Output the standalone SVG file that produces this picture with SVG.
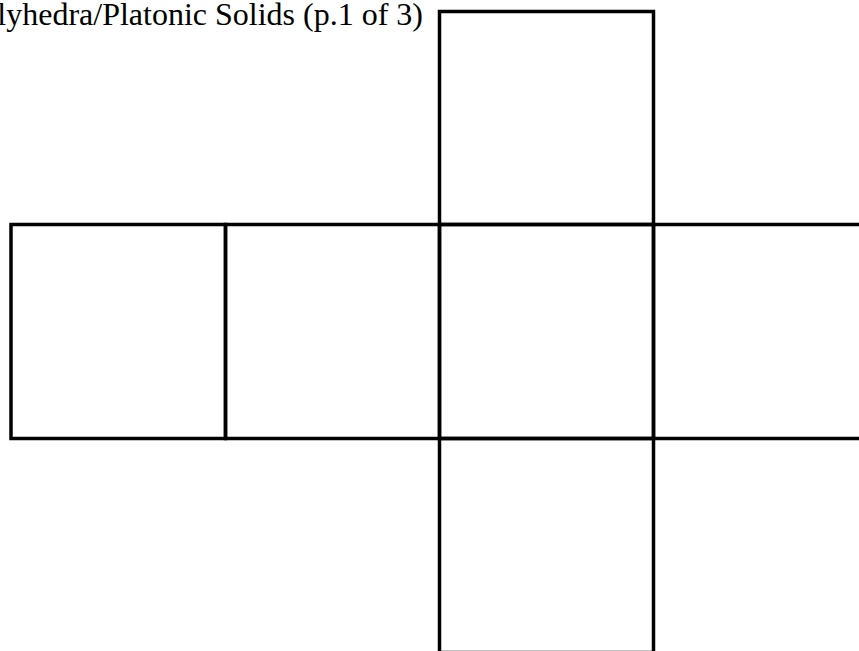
<svg xmlns="http://www.w3.org/2000/svg" width="859" height="651" viewBox="0 0 859 651">
<style>
.face{fill:none;stroke:#000;stroke-width:3.5}
.title{font-family:"Liberation Serif","Times New Roman",serif;font-size:32px;fill:#000}
</style>
<rect width="859" height="651" fill="#fff"/>
<text class="title" x="423" y="25" text-anchor="end">Polyhedra/Platonic Solids (p.1 of 3)</text>
<g id="face-top"><rect class="face" x="439.5" y="11.5" width="214" height="213"/></g>
<g id="face-left"><rect class="face" x="11" y="224.5" width="214.5" height="214"/></g>
<g id="face-midleft"><rect class="face" x="225.5" y="224.5" width="214" height="214"/></g>
<g id="face-center"><rect class="face" x="439.5" y="224.5" width="214" height="214"/></g>
<g id="face-right"><rect class="face" x="653.5" y="224.5" width="214" height="214"/></g>
<g id="face-bottom"><rect class="face" x="439.5" y="438.5" width="214" height="214"/></g>
<g id="connectors"></g>
</svg>
